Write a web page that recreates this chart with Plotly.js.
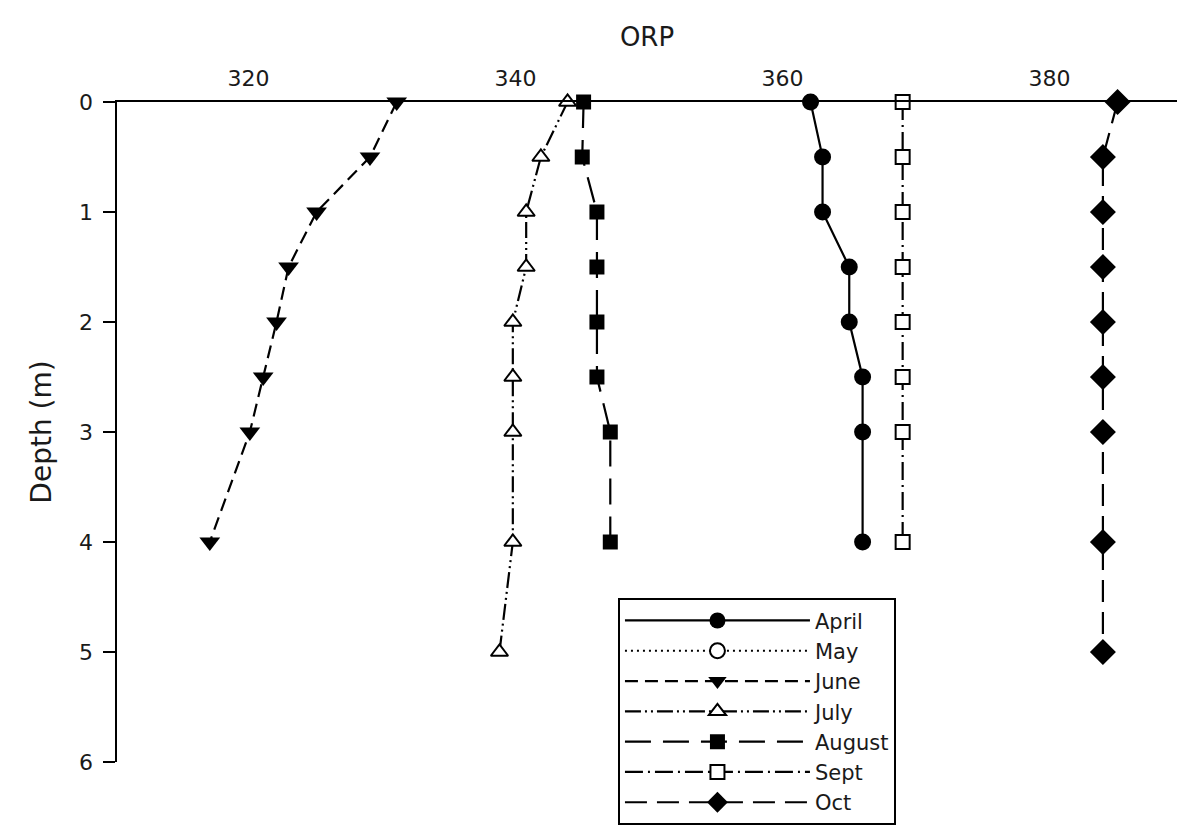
<!DOCTYPE html>
<html>
<head>
<meta charset="utf-8">
<script src="https://cdn.plot.ly/plotly-3.0.1.min.js"></script>
<style>
html,body{margin:0;padding:0;background:#ffffff;}
#chart{width:1177px;height:833px;}
</style>
</head>
<body>
<div id="chart"></div>
<script>
// ---- data ----
const seriesNames = ["April", "May", "June", "July", "August", "Sept", "Oct"];

const aprilDepth = [0, 0.5, 1, 1.5, 2, 2.5, 3, 4];
const aprilOrp   = [362.1, 363.0, 363.0, 365.0, 365.0, 366.0, 366.0, 366.0];

// May appears only in the legend: no points are drawn for it in the reference
const mayDepth = [null];
const mayOrp   = [null];

const juneDepth = [0, 0.5, 1, 1.5, 2, 2.5, 3, 4];
const juneOrp   = [331.1, 329.1, 325.1, 323.0, 322.1, 321.1, 320.1, 317.1];

const julyDepth = [0, 0.5, 1, 1.5, 2, 2.5, 3, 4, 5];
const julyOrp   = [343.9, 341.9, 340.8, 340.8, 339.8, 339.8, 339.8, 339.8, 338.8];

const augustDepth = [0, 0.5, 1, 1.5, 2, 2.5, 3, 4];
const augustOrp   = [345.1, 345.0, 346.1, 346.1, 346.1, 346.1, 347.1, 347.1];

const septDepth = [0, 0.5, 1, 1.5, 2, 2.5, 3, 4];
const septOrp   = [369.0, 369.0, 369.0, 369.0, 369.0, 369.0, 369.0, 369.0];

const octDepth = [0, 0.5, 1, 1.5, 2, 2.5, 3, 4, 5];
const octOrp   = [385.1, 384.0, 384.0, 384.0, 384.0, 384.0, 384.0, 384.0, 384.0];

const xTickVals = [320, 340, 360, 380];
const yTickVals = [0, 1, 2, 3, 4, 5, 6];

// ---- styling ----
const FONT = "DejaVu Sans, Liberation Sans, Arial, sans-serif";
const BLACK = "#000000";
const TEXT = "#1a1a1a";

function trace(name, x, y, dash, symbol, size, filled) {
  return {
    type: "scatter",
    mode: "lines+markers",
    name: name,
    x: x,
    y: y,
    cliponaxis: false,
    legendgroup: name,
    line: {color: BLACK, width: 2.2, dash: dash},
    marker: {
      symbol: symbol,
      size: size,
      color: filled ? BLACK : "#ffffff",
      line: {color: BLACK, width: filled ? 0 : 2}
    }
  };
}

const data = [
  trace(seriesNames[0], aprilOrp, aprilDepth, "solid", "circle", 17, true),
  trace(seriesNames[1], mayOrp, mayDepth, "2px,4px", "circle", 15, false),
  trace(seriesNames[2], juneOrp, juneDepth, "13px,7px", "triangle-down", 18, true),
  trace(seriesNames[3], julyOrp, julyDepth, "16px,4px,2px,4px,2px,4px", "triangle-up", 15, false),
  trace(seriesNames[4], augustOrp, augustDepth, "26px,12px", "square", 15, true),
  trace(seriesNames[5], septOrp, septDepth, "18px,5px,2px,5px", "square", 14, false),
  trace(seriesNames[6], octOrp, octDepth, "22px,10px", "diamond", 20, true)
];

const layout = {
  width: 1177,
  height: 833,
  paper_bgcolor: "#ffffff",
  plot_bgcolor: "#ffffff",
  margin: {l: 117, r: 0, t: 102, b: 71, pad: 0},
  font: {family: FONT, color: TEXT, size: 21},
  showlegend: true,
  xaxis: {
    side: "top",
    range: [310.15, 389.55],
    tickvals: xTickVals,
    ticktext: xTickVals.map(String),
    ticks: "",
    showline: true,
    linecolor: BLACK,
    linewidth: 2.5,
    showgrid: false,
    zeroline: false,
    tickfont: {family: FONT, size: 22, color: TEXT},
    ticklabelstandoff: 5,
    title: {text: "ORP", font: {family: FONT, size: 26, color: TEXT}, standoff: 12}
  },
  yaxis: {
    range: [6, 0],
    tickvals: yTickVals,
    ticktext: yTickVals.map(String),
    ticks: "outside",
    ticklen: 12,
    tickwidth: 2,
    tickcolor: BLACK,
    showline: true,
    linecolor: BLACK,
    linewidth: 2.5,
    showgrid: false,
    zeroline: false,
    tickfont: {family: FONT, size: 22, color: TEXT},
    ticklabelstandoff: 5,
    title: {text: "Depth (m)", font: {family: FONT, size: 28, color: TEXT}, standoff: 20}
  },
  legend: {
    x: 0.4726,
    y: 0.248,
    xanchor: "left",
    yanchor: "top",
    bgcolor: "#ffffff",
    bordercolor: BLACK,
    borderwidth: 2,
    itemwidth: 185,
    tracegroupgap: 0,
    font: {family: FONT, size: 21, color: TEXT},
    itemclick: false,
    itemdoubleclick: false
  }
};

Plotly.newPlot("chart", data, layout, {displayModeBar: false, staticPlot: true});
</script>
</body>
</html>
